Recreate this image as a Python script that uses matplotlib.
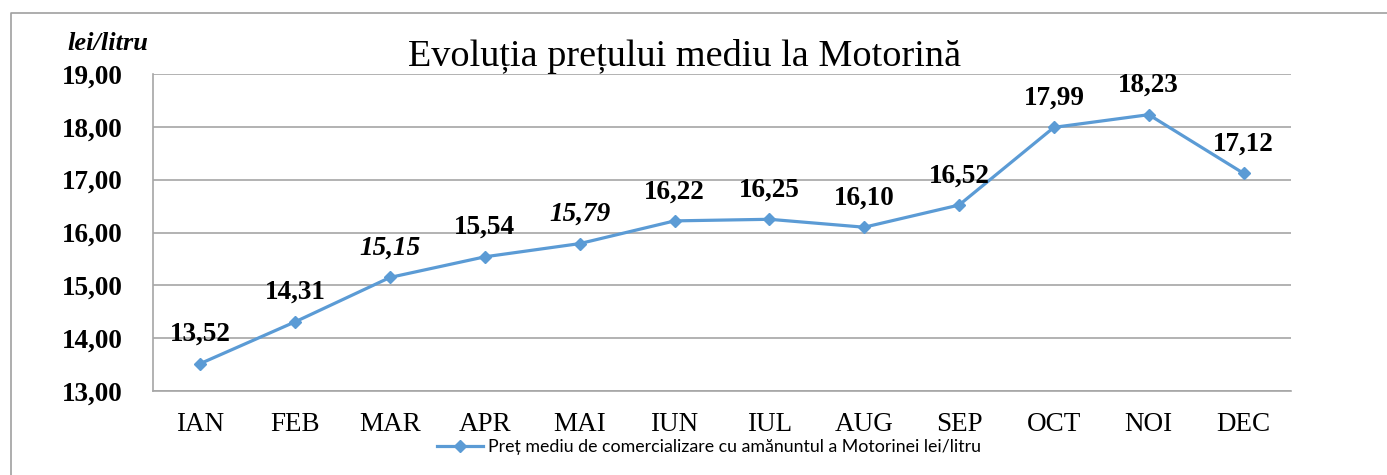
import matplotlib
matplotlib.use("Agg")
import matplotlib.pyplot as plt
from matplotlib.lines import Line2D

months = ['IAN', 'FEB', 'MAR', 'APR', 'MAI', 'IUN', 'IUL', 'AUG', 'SEP', 'OCT', 'NOI', 'DEC']
prices = [13.52, 14.31, 15.15, 15.54, 15.79, 16.22, 16.25, 16.10, 16.52, 17.99, 18.23, 17.12]
italic_labels = [False, False, True, False, True, False, False, False, False, False, False, False]
y_ticks = [13, 14, 15, 16, 17, 18, 19]
series_name = 'Preț mediu de comercializare cu amănuntul a Motorinei lei/litru'

serif = 'Liberation Serif'
blue = '#5B9BD5'

W, H = 1387, 475
fig = plt.figure(figsize=(W / 100, H / 100), dpi=100)
ax = fig.add_axes([153 / W, 1 - 391 / H, (1291 - 153) / W, (391 - 74) / H])

x = list(range(len(months)))
line, = ax.plot(x, prices, color=blue, lw=2.3, marker='D', markersize=6.5, label=series_name)

for i, v in enumerate(prices):
    ax.annotate(f'{v:.2f}'.replace('.', ','), (i, v), xytext=(0, 21), textcoords='offset points',
                ha='center', va='center', fontsize=19.5, fontweight='bold', family=serif,
                style='italic' if italic_labels[i] else 'normal')

ax.set_xlim(-0.5, len(months) - 0.5)
ax.set_ylim(13, 19)
ax.set_xticks(x)
ax.set_xticklabels(months, family=serif, fontsize=19.5)
ax.set_yticks(y_ticks)
ax.set_yticklabels([f'{t:.2f}'.replace('.', ',') for t in y_ticks], family=serif, fontsize=19.5, fontweight='bold')
ax.tick_params(axis='both', length=0)
ax.tick_params(axis='y', pad=22)
ax.tick_params(axis='x', pad=15)
ax.grid(axis='y', color='#A6A6A6', lw=1.2)
ax.set_axisbelow(True)
for s in ['top', 'right']:
    ax.spines[s].set_visible(False)
for s in ['left', 'bottom']:
    ax.spines[s].set_color('#A6A6A6')
    ax.spines[s].set_linewidth(1.2)

fig.text(685 / W, 1 - 57 / H, 'Evoluția prețului mediu la Motorină', ha='center', va='center',
         family=serif, fontsize=27.5)
fig.text(148 / W, 1 - 43 / H, 'lei/litru', ha='right', va='center', family=serif,
         fontsize=19, fontweight='bold', style='italic')

fig.legend(handles=[line], loc='center', bbox_to_anchor=(709 / W, 1 - 447 / H), frameon=False,
           prop={'family': 'Lato', 'size': 12.8}, handlelength=2.6, handletextpad=0.3)

# outer chart border (left and top)
fig.add_artist(Line2D([11 / W, 11 / W, 1.0], [0, 1 - 13 / H, 1 - 13 / H], transform=fig.transFigure,
                      color='#A0A0A0', lw=1.2))

fig.savefig('out.png', dpi=100)
